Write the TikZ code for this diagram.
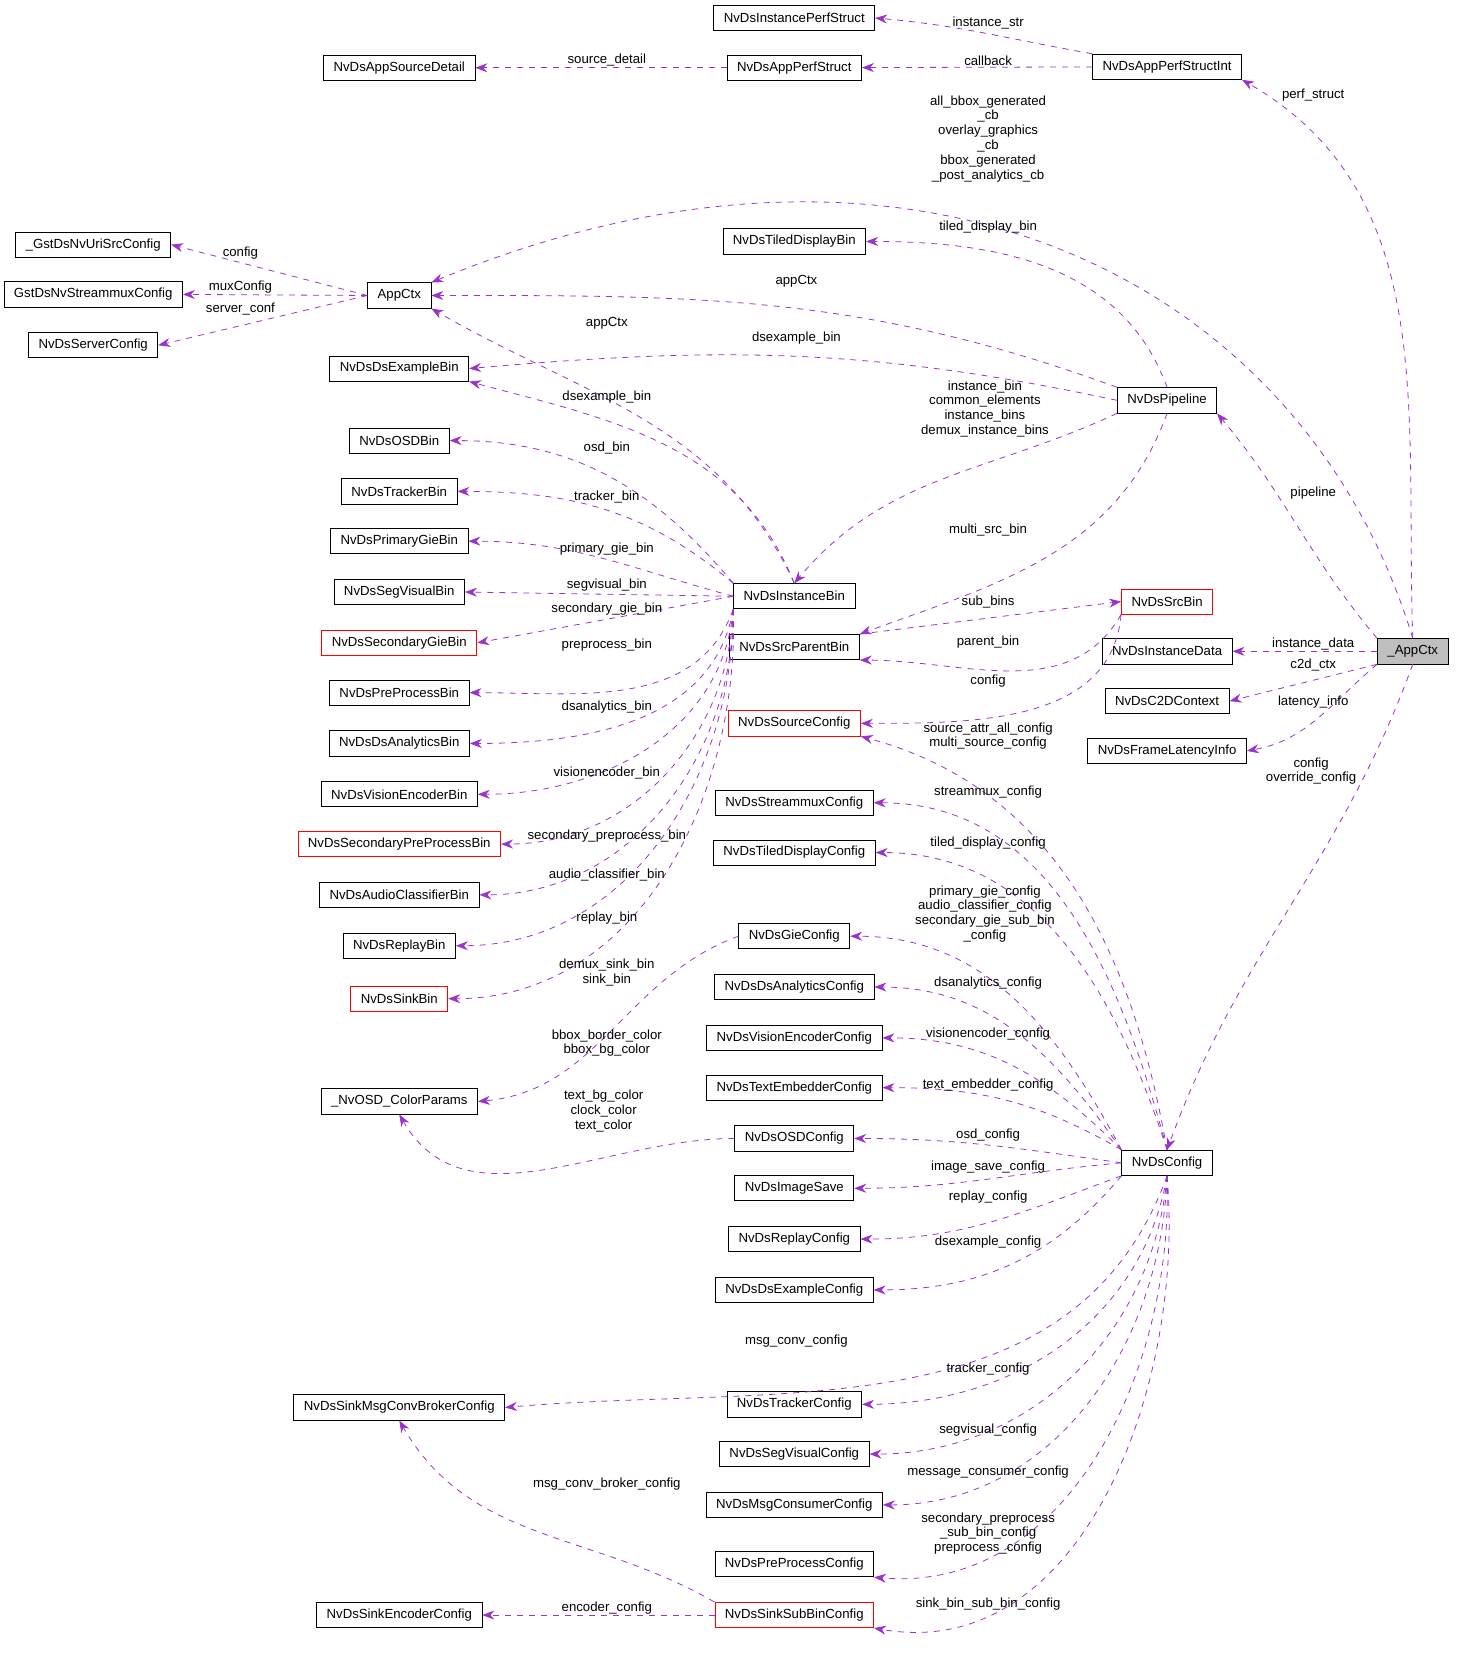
\documentclass[tikz,border=0pt]{standalone}
\usepackage{fontspec}
\setmainfont{Liberation Sans}
\usetikzlibrary{arrows.meta,positioning}
\definecolor{edgecol}{HTML}{9A32CD}
\tikzset{
  box/.style={draw=black,fill=white,font=\fontsize{6.6}{7.6}\selectfont,inner xsep=5pt,inner ysep=1pt,minimum height=12.6pt},
  redbox/.style={box,draw=red},
  rootbox/.style={box,fill=black!25},
  link/.style={draw=edgecol,dashed,thin,-{Stealth[length=6pt,width=4.5pt]}},
  lbl/.style={font=\fontsize{6.6}{7.4}\selectfont,align=center,inner sep=0pt}
}
\begin{document}
\begin{tikzpicture}[x=0.5295pt,y=-0.5295pt]
\useasboundingbox (0,0) rectangle (1380,1575);
% top row
\node[box] (instperf) at (750,17) {NvDsInstancePerfStruct};
\node[box] (srcdetail) at (377,64) {NvDsAppSourceDetail};
\node[box] (appperf) at (750,64) {NvDsAppPerfStruct};
\node[box] (perfint) at (1102,63) {NvDsAppPerfStructInt};
% left column
\node[box] (uri) at (88,231) {\_GstDsNvUriSrcConfig};
\node[box] (mux) at (88,278) {GstDsNvStreammuxConfig};
\node[box] (server) at (88,326) {NvDsServerConfig};
\node[box] (actx) at (377,279) {AppCtx};
\node[box] (dsexbin) at (377,348) {NvDsDsExampleBin};
\node[box] (osdbin) at (377,416) {NvDsOSDBin};
\node[box] (trkbin) at (377,464) {NvDsTrackerBin};
\node[box] (pgiebin) at (377,511) {NvDsPrimaryGieBin};
\node[box] (segbin) at (377,559) {NvDsSegVisualBin};
\node[redbox] (sgiebin) at (377,607) {NvDsSecondaryGieBin};
\node[box] (prebin) at (377,654) {NvDsPreProcessBin};
\node[box] (anabin) at (377,702) {NvDsDsAnalyticsBin};
\node[box] (venbin) at (377,750) {NvDsVisionEncoderBin};
\node[redbox] (sprebin) at (377,797) {NvDsSecondaryPreProcessBin};
\node[box] (audbin) at (377,845) {NvDsAudioClassifierBin};
\node[box] (repbin) at (377,893) {NvDsReplayBin};
\node[redbox] (sinkbin) at (377,943) {NvDsSinkBin};
\node[box] (color) at (377,1040) {\_NvOSD\_ColorParams};
\node[box] (msgconv) at (377,1329) {NvDsSinkMsgConvBrokerConfig};
\node[box] (sinkenc) at (377,1525) {NvDsSinkEncoderConfig};
% middle column
\node[box] (tiledbin) at (750,228) {NvDsTiledDisplayBin};
\node[box] (ib) at (750,563) {NvDsInstanceBin};
\node[box] (spb) at (750,611) {NvDsSrcParentBin};
\node[redbox] (srccfg) at (750,683) {NvDsSourceConfig};
\node[box] (muxcfg) at (750,758) {NvDsStreammuxConfig};
\node[box] (tilecfg) at (750,805) {NvDsTiledDisplayConfig};
\node[box] (gie) at (750,884) {NvDsGieConfig};
\node[box] (anacfg) at (750,932) {NvDsDsAnalyticsConfig};
\node[box] (vencfg) at (750,980) {NvDsVisionEncoderConfig};
\node[box] (txtcfg) at (750,1027) {NvDsTextEmbedderConfig};
\node[box] (osdcfg) at (750,1075) {NvDsOSDConfig};
\node[box] (imgsave) at (750,1122) {NvDsImageSave};
\node[box] (repcfg) at (750,1170) {NvDsReplayConfig};
\node[box] (dsexcfg) at (750,1218) {NvDsDsExampleConfig};
\node[box] (trkcfg) at (750,1326) {NvDsTrackerConfig};
\node[box] (segcfg) at (750,1373) {NvDsSegVisualConfig};
\node[box] (msgcons) at (750,1421) {NvDsMsgConsumerConfig};
\node[box] (precfg) at (750,1477) {NvDsPreProcessConfig};
\node[redbox] (sinksub) at (750,1525) {NvDsSinkSubBinConfig};
% right columns
\node[box] (pipe) at (1102,378) {NvDsPipeline};
\node[redbox] (srcbin) at (1102,568) {NvDsSrcBin};
\node[box] (instdata) at (1102,615) {NvDsInstanceData};
\node[box] (c2d) at (1102,662) {NvDsC2DContext};
\node[box] (lat) at (1102,709) {NvDsFrameLatencyInfo};
\node[box] (cfg) at (1102,1098) {NvDsConfig};
\node[rootbox] (root) at (1334,615) {\_AppCtx};

% perf structs
\draw[link] (perfint.north west) to[out=170,in=-5] (instperf.east);
\draw[link] (perfint) -- (appperf);
\draw[link] (appperf) -- (srcdetail);
\draw[link] (root.north) to[out=92,in=-30] (perfint.south east);
\node[lbl] at (933,22) {instance\_str};
\node[lbl] at (933,57) {callback};
\node[lbl] at (573,57) {source\_detail};
\node[lbl] at (1240,90) {perf\_struct};
% AppCtx
\draw[link] (root.north) .. controls (1230,260) and (860,80) .. (actx.north east);
\node[lbl] at (933,131) {all\_bbox\_generated\\\_cb\\overlay\_graphics\\\_cb\\bbox\_generated\\\_post\_analytics\_cb};
\draw[link] (actx.west) -- (uri.east);
\draw[link] (actx.west) -- (mux.east);
\draw[link] (actx.west) -- (server.east);
\node[lbl] at (227,239) {config};
\node[lbl] at (227,271) {muxConfig};
\node[lbl] at (227,292) {server\_conf};
% pipeline
\draw[link] (pipe.north) to[out=110,in=0] (tiledbin.east);
\draw[link] (pipe.north west) to[out=160,in=0] (actx.east);
\draw[link] (pipe.west) to[out=168,in=5] (dsexbin.east);
\draw[link] (ib.north) to[out=115,in=-30] (actx.south east);
\draw[link] (pipe.south west) to[out=-155,in=50] (ib.north);
\draw[link] (pipe.south) to[out=-110,in=20] (spb.north east);
\draw[link] (root.north west) to[out=130,in=-50] (pipe.south east);
\node[lbl] at (933,214) {tiled\_display\_bin};
\node[lbl] at (752,266) {appCtx};
\node[lbl] at (752,319) {dsexample\_bin};
\node[lbl] at (573,305) {appCtx};
\node[lbl] at (930,386) {instance\_bin\\common\_elements\\instance\_bins\\demux\_instance\_bins};
\node[lbl] at (933,500) {multi\_src\_bin};
\node[lbl] at (1240,466) {pipeline};
% instance bin
\draw[link] (ib.north) to[out=112,in=-15] (dsexbin.south east);
\draw[link] (ib.north west) to[out=130,in=0] (osdbin.east);
\draw[link] (ib.north west) to[out=140,in=0] (trkbin.east);
\draw[link] (ib.west) to[out=165,in=0] (pgiebin.east);
\draw[link] (ib.west) -- (segbin.east);
\draw[link] (ib.west) -- (sgiebin.east);
\draw[link] (ib.south west) to[out=-110,in=0] (prebin.east);
\draw[link] (ib.south west) to[out=-100,in=0] (anabin.east);
\draw[link] (ib.south west) to[out=-95,in=0] (venbin.east);
\draw[link] (ib.south west) to[out=-92,in=0] (sprebin.east);
\draw[link] (ib.south west) to[out=-90,in=0] (audbin.east);
\draw[link] (ib.south west) to[out=-90,in=0] (repbin.east);
\draw[link] (ib.south west) to[out=-88,in=0] (sinkbin.east);
\node[lbl] at (573,375) {dsexample\_bin};
\node[lbl] at (573,423) {osd\_bin};
\node[lbl] at (573,469) {tracker\_bin};
\node[lbl] at (573,518) {primary\_gie\_bin};
\node[lbl] at (573,552) {segvisual\_bin};
\node[lbl] at (573,575) {secondary\_gie\_bin};
\node[lbl] at (573,609) {preprocess\_bin};
\node[lbl] at (573,668) {dsanalytics\_bin};
\node[lbl] at (573,730) {visionencoder\_bin};
\node[lbl] at (573,789) {secondary\_preprocess\_bin};
\node[lbl] at (573,826) {audio\_classifier\_bin};
\node[lbl] at (573,867) {replay\_bin};
\node[lbl] at (573,918) {demux\_sink\_bin\\sink\_bin};
% colour params
\draw[link] (gie.west) to[out=-160,in=5] (color.east);
\draw[link] (osdcfg.west) to[out=180,in=-60] (color.south);
\node[lbl] at (573,985) {bbox\_border\_color\\bbox\_bg\_color};
\node[lbl] at (570,1049) {text\_bg\_color\\clock\_color\\text\_color};
% source bins
\draw[link] (spb.north east) -- (srcbin.west);
\draw[link] (srcbin.south west) to[out=-120,in=0] (spb.south east);
\draw[link] (srcbin.south west) to[out=-95,in=0] (srccfg.east);
\node[lbl] at (933,568) {sub\_bins};
\node[lbl] at (933,606) {parent\_bin};
\node[lbl] at (933,643) {config};
% _AppCtx members
\draw[link] (root.west) -- (instdata.east);
\draw[link] (root.south west) -- (c2d.east);
\draw[link] (root.south west) to[out=-140,in=10] (lat.east);
\draw[link] (root.south) to[out=-110,in=70] (cfg.north);
\node[lbl] at (1240,608) {instance\_data};
\node[lbl] at (1240,628) {c2d\_ctx};
\node[lbl] at (1240,663) {latency\_info};
\node[lbl] at (1238,728) {config\\override\_config};
% config members
\draw[link] (cfg.north) to[out=100,in=-15] (srccfg.south east);
\draw[link] (cfg.north) to[out=105,in=0] (muxcfg.east);
\draw[link] (cfg.north) to[out=108,in=0] (tilecfg.east);
\draw[link] (cfg.north west) to[out=118,in=0] (gie.east);
\draw[link] (cfg.north west) to[out=125,in=0] (anacfg.east);
\draw[link] (cfg.north west) to[out=135,in=0] (vencfg.east);
\draw[link] (cfg.north west) to[out=150,in=0] (txtcfg.east);
\draw[link] (cfg.west) to[out=172,in=0] (osdcfg.east);
\draw[link] (cfg.west) to[out=185,in=0] (imgsave.east);
\draw[link] (cfg.south west) to[out=-160,in=0] (repcfg.east);
\draw[link] (cfg.south west) to[out=-130,in=0] (dsexcfg.east);
\draw[link] (cfg.south) to[out=-110,in=5] (msgconv.east);
\draw[link] (cfg.south) to[out=-100,in=0] (trkcfg.east);
\draw[link] (cfg.south) to[out=-95,in=0] (segcfg.east);
\draw[link] (cfg.south) to[out=-92,in=0] (msgcons.east);
\draw[link] (cfg.south) to[out=-88,in=-5] (precfg.south east);
\draw[link] (cfg.south) to[out=-85,in=-10] (sinksub.south east);
\node[lbl] at (933,695) {source\_attr\_all\_config\\multi\_source\_config};
\node[lbl] at (933,748) {streammux\_config};
\node[lbl] at (933,796) {tiled\_display\_config};
\node[lbl] at (930,863) {primary\_gie\_config\\audio\_classifier\_config\\secondary\_gie\_sub\_bin\\\_config};
\node[lbl] at (933,928) {dsanalytics\_config};
\node[lbl] at (933,976) {visionencoder\_config};
\node[lbl] at (933,1025) {text\_embedder\_config};
\node[lbl] at (933,1072) {osd\_config};
\node[lbl] at (933,1102) {image\_save\_config};
\node[lbl] at (933,1130) {replay\_config};
\node[lbl] at (933,1173) {dsexample\_config};
\node[lbl] at (752,1266) {msg\_conv\_config};
\node[lbl] at (933,1293) {tracker\_config};
\node[lbl] at (933,1350) {segvisual\_config};
\node[lbl] at (933,1390) {message\_consumer\_config};
\node[lbl] at (933,1448) {secondary\_preprocess\\\_sub\_bin\_config\\preprocess\_config};
\node[lbl] at (933,1515) {sink\_bin\_sub\_bin\_config};
% sink sub bin
\draw[link] (sinksub.north west) to[out=150,in=-60] (msgconv.south);
\draw[link] (sinksub) -- (sinkenc);
\node[lbl] at (573,1401) {msg\_conv\_broker\_config};
\node[lbl] at (573,1518) {encoder\_config};
\end{tikzpicture}
\end{document}
